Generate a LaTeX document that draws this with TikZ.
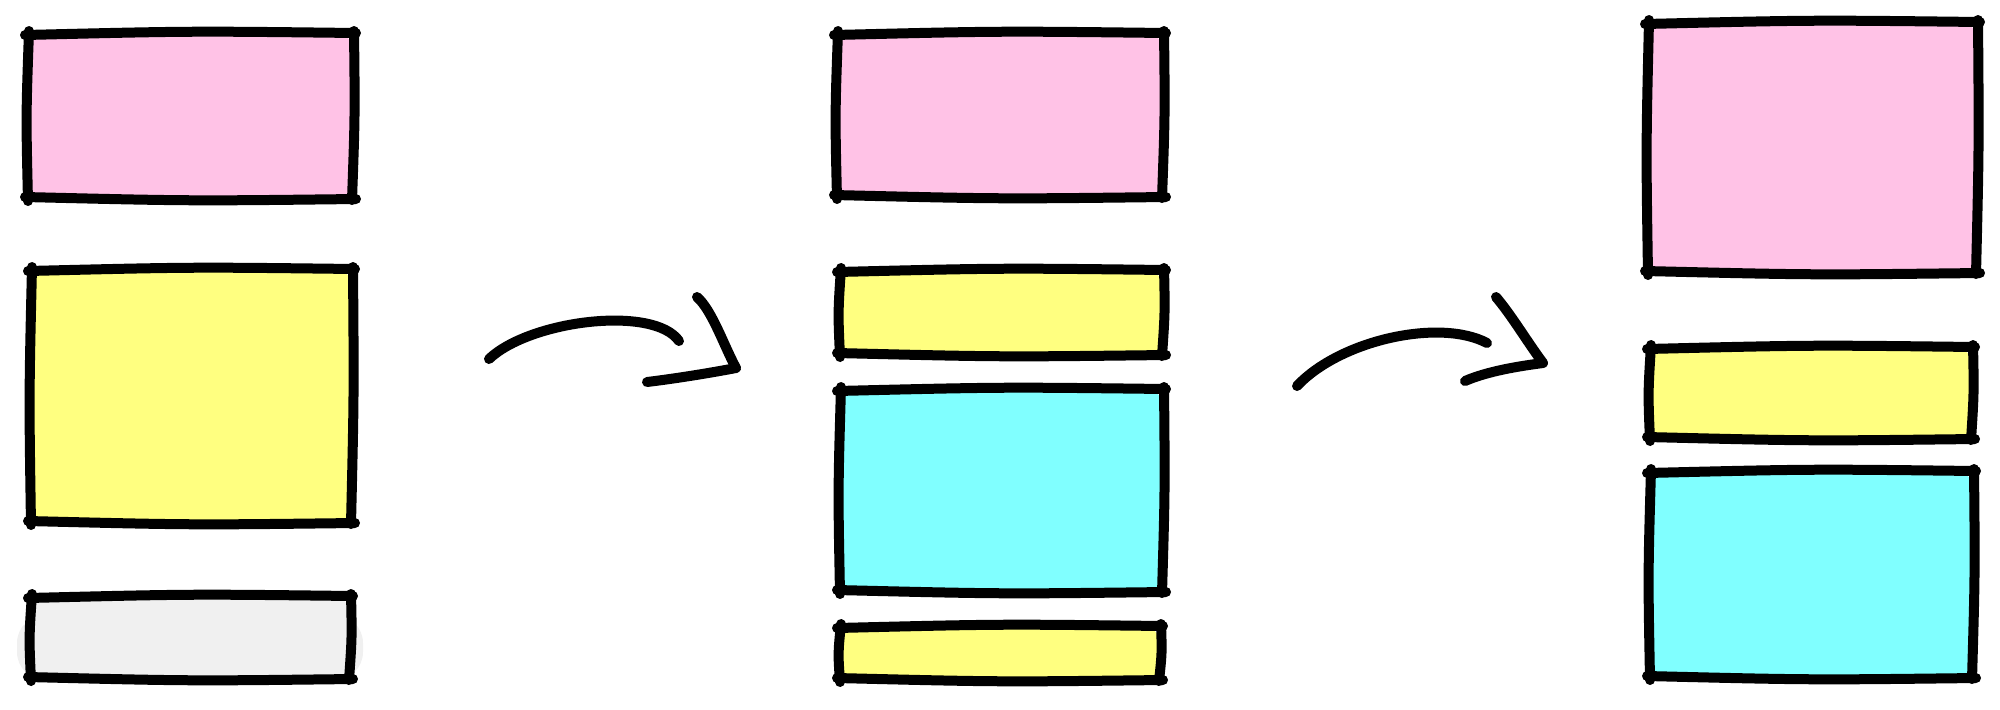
\documentclass[tikz,border=0pt]{standalone}
\definecolor{skpink}{HTML}{FFC2E6}
\definecolor{skyellow}{HTML}{FFFF80}
\definecolor{skcyan}{HTML}{80FFFF}
\definecolor{skgray}{HTML}{F0F0F0}
\tikzset{
  skfill/.style={inner sep=0pt, outer sep=0pt, rounded corners=8pt, draw=none},
  skline/.style={line width=5pt, line cap=round, line join=round, black},
  skarrow/.style={line width=5pt, line cap=round, line join=round, black},
}
\newcommand{\skbox}[1]{%
  \draw[skline] ([shift={(-3,1)}]#1.north west) .. controls ([shift={(0,-3)}]#1.north) .. ([shift={(3,-1)}]#1.north east);
  \draw[skline] ([shift={(1,-3)}]#1.north east) .. controls ([shift={(2,0)}]#1.east) .. ([shift={(-1,2)}]#1.south east);
  \draw[skline] ([shift={(3,1)}]#1.south east) .. controls ([shift={(0,3)}]#1.south) .. ([shift={(-3,-1)}]#1.south west);
  \draw[skline] ([shift={(0,3)}]#1.south west) .. controls ([shift={(-2,0)}]#1.west) .. ([shift={(1,-3)}]#1.north west);
}
\begin{document}
\begin{tikzpicture}[x=0.5pt,y=-0.5pt]
\useasboundingbox (0,0) rectangle (2000,709);
% column 1
\node[skfill, fill=skpink,   minimum width=162.5pt, minimum height=82pt]   (p1) at (190.5,116) {};
\node[skfill, fill=skyellow, minimum width=160.5pt, minimum height=126pt]  (y1) at (191.5,396) {};
\node[skfill, fill=skgray,   minimum width=159.5pt, minimum height=40.5pt] (g1) at (190.5,637.5) {};
\fill[skgray, rounded corners=14pt] ([shift={(-7pt,-1pt)}]g1.south west) rectangle ([shift={(6.5pt,-9pt)}]g1.north east);
% column 2
\node[skfill, fill=skpink,   minimum width=163pt,   minimum height=81pt]    (p2) at (1000,115) {};
\node[skfill, fill=skyellow, minimum width=161.5pt, minimum height=41.5pt]  (y2) at (1001.5,312.5) {};
\node[skfill, fill=skcyan,   minimum width=161.5pt, minimum height=100.5pt] (c2) at (1001.5,490.5) {};
\node[skfill, fill=skyellow, minimum width=160pt,   minimum height=26pt]    (y3) at (1000,653) {};
% column 3
\node[skfill, fill=skpink,   minimum width=164.5pt, minimum height=124.5pt] (p3) at (1812.5,147.5) {};
\node[skfill, fill=skyellow, minimum width=161pt,   minimum height=45pt]    (y4) at (1811,393) {};
\node[skfill, fill=skcyan,   minimum width=161.5pt, minimum height=102.5pt] (c3) at (1811.5,574.5) {};
% borders
\skbox{p1}\skbox{y1}\skbox{g1}
\skbox{p2}\skbox{y2}\skbox{c2}\skbox{y3}
\skbox{p3}\skbox{y4}\skbox{c3}
% arrow 1
\coordinate (a1s) at (489,359);
\coordinate (a1e) at (679,341);
\coordinate (a1t) at (736,368);
\coordinate (a1u) at (697,297);
\coordinate (a1d) at (647,382);
\draw[skarrow] (a1s) .. controls (530,320) and (654,305) .. (a1e);
\draw[skarrow] (a1u) .. controls (712,310) and (724,346) .. (a1t);
\draw[skarrow] (a1d) .. controls (680,378) and (715,372) .. (a1t);
% arrow 2
\coordinate (a2s) at (1297,386);
\coordinate (a2e) at (1487,343);
\coordinate (a2t) at (1543,363);
\coordinate (a2u) at (1496,297);
\coordinate (a2d) at (1465,381);
\draw[skarrow] (a2s) .. controls (1340,340) and (1440,318) .. (a2e);
\draw[skarrow] (a2u) .. controls (1512,316) and (1526,340) .. (a2t);
\draw[skarrow] (a2d) .. controls (1488,371) and (1520,366) .. (a2t);
\end{tikzpicture}
\end{document}
